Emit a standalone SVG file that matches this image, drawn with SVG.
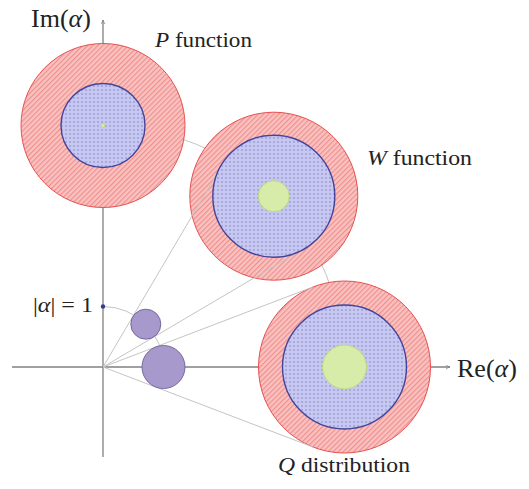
<svg xmlns="http://www.w3.org/2000/svg" width="529" height="489" viewBox="0 0 529 489">
<style>
.axis{stroke:#808080;stroke-width:1.3;fill:none}
.guide{stroke:#c4c4c4;stroke-width:1;fill:none}
.outer{fill:url(#hatch);stroke:#e6504e;stroke-width:1}
.inner{fill:url(#dots);stroke:#45449a;stroke-width:1.4}
.green{fill:#d7eca9;stroke:#b9da83;stroke-width:1}
.small{fill:#a899cc;stroke:#76689f;stroke-width:1}
text{font-family:"Liberation Serif","DejaVu Serif",serif;fill:#222}
.lbl{font-size:21px}
.ax{font-size:26px}
.it{font-style:italic}
</style>
<defs>
<pattern id="hatch" width="3.6" height="3.6" patternUnits="userSpaceOnUse" patternTransform="rotate(45)">
<rect width="3.6" height="3.6" fill="#f9c2c1"/>
<line x1="0.6" y1="0" x2="0.6" y2="3.6" stroke="#ef8c8a" stroke-width="1.1"/>
</pattern>
<pattern id="dots" width="4" height="4" patternUnits="userSpaceOnUse">
<rect width="4" height="4" fill="#c6c8f3"/>
<circle cx="2" cy="2" r="0.7" fill="#7576aa"/>
</pattern>
<marker id="arr" viewBox="0 0 10 10" refX="9" refY="5" markerWidth="5" markerHeight="5" orient="auto" markerUnits="userSpaceOnUse">
<path d="M1,1 Q5,4 9,5 Q5,6 1,9" fill="none" stroke="#808080" stroke-width="1.5"/>
</marker>
</defs>
<g id="connectors">
<line class="axis" x1="103" y1="457" x2="103" y2="20" marker-end="url(#arr)"/>
<line class="axis" x1="12" y1="367" x2="450" y2="367" marker-end="url(#arr)"/>
<path class="guide" d="M103,125.5 A241.5,241.5 0 0 1 344.5,367"/>
<path class="guide" d="M103,306.5 A60.5,60.5 0 0 1 163.5,367"/>
</g>
<g id="P-function">
<circle class="outer" cx="103" cy="125.5" r="82"/>
</g>
<g id="W-function">
<circle class="outer" cx="273.8" cy="196.2" r="84"/>
</g>
<g id="Q-distribution">
<circle class="outer" cx="344.5" cy="367" r="86"/>
</g>
<g id="tangents">
<line class="guide" x1="103" y1="367" x2="221.7" y2="165.7"/>
<line class="guide" x1="103" y1="367" x2="304.3" y2="248.3"/>
<line class="guide" x1="103" y1="367" x2="313.9" y2="286.6"/>
<line class="guide" x1="103" y1="367" x2="313.9" y2="447.4"/>
</g>
<g id="P-inner">
<circle class="inner" cx="103" cy="125.5" r="42"/>
<circle class="green" cx="103" cy="125.5" r="2"/>
</g>
<g id="W-inner">
<circle class="inner" cx="273.8" cy="196.2" r="61"/>
<circle class="green" cx="273.8" cy="196.2" r="15.5"/>
</g>
<g id="Q-inner">
<circle class="inner" cx="344.5" cy="367" r="62"/>
<circle class="green" cx="344.5" cy="367" r="22"/>
</g>
<g id="small-W">
<circle class="small" cx="145.8" cy="324.2" r="15"/>
</g>
<g id="small-Q">
<circle class="small" cx="163.5" cy="367" r="21.5"/>
</g>
<g id="unit-point">
<circle cx="103" cy="306.5" r="2.2" fill="#3a3a8a"/>
<text class="lbl" x="33" y="312" textLength="60" lengthAdjust="spacingAndGlyphs"><tspan>|</tspan><tspan class="it">α</tspan><tspan>| = 1</tspan></text>
</g>
<g id="labels">
<text class="ax" x="31" y="27">Im(<tspan class="it">α</tspan>)</text>
<text class="ax" x="457" y="377">Re(<tspan class="it">α</tspan>)</text>
<text class="lbl" x="155" y="47" textLength="97" lengthAdjust="spacingAndGlyphs"><tspan class="it">P</tspan> function</text>
<text class="lbl" x="367" y="165" textLength="105" lengthAdjust="spacingAndGlyphs"><tspan class="it">W</tspan> function</text>
<text class="lbl" x="278" y="472" textLength="132" lengthAdjust="spacingAndGlyphs"><tspan class="it">Q</tspan> distribution</text>
</g>
</svg>
